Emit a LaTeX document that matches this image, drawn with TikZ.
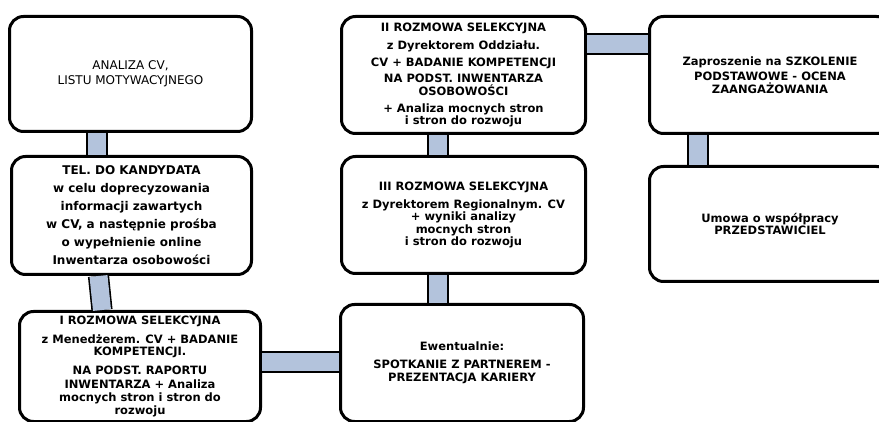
\documentclass[tikz,border=0pt]{standalone}
\usepackage{fontspec}
\setmainfont{DejaVu Sans}
\usetikzlibrary{calc}
\definecolor{barfill}{HTML}{B3C3DC}
\tikzset{
  stage/.style={draw=black, line width=3pt, fill=white, rounded corners=14pt,
    align=center, inner sep=2pt, font=\fontsize{11.5}{12.5}\selectfont\bfseries},
  bar/.style={draw=black, double=barfill, double distance=18pt, line width=1.6pt},
}
\begin{document}
\begin{tikzpicture}[x=1pt,y=-1pt]
\useasboundingbox (0,0) rectangle (879,422);

% left column
\node[stage, minimum width=242pt, minimum height=115pt, font=\fontsize{12}{15}\selectfont]
  (b1) at (130.5,74) {ANALIZA CV,\\LISTU MOTYWACYJNEGO};
\node[stage, minimum width=240pt, minimum height=118pt, font=\fontsize{12}{18}\selectfont\bfseries]
  (b2) at (131.5,215.5) {TEL. DO KANDYDATA\\w celu doprecyzowania\\informacji zawartych\\w CV, a następnie prośba\\o wypełnienie online\\Inwentarza osobowości};
\node[stage, minimum width=241pt, minimum height=110pt]
  (b3) at (140,366.5) {I ROZMOWA SELEKCYJNA\\[6.5pt]z Menedżerem. CV + BADANIE\\KOMPETENCJI.\\[6.5pt]NA PODST. RAPORTU\\[1.5pt]INWENTARZA + Analiza\\[0.5pt]mocnych stron i stron do\\[0.5pt]rozwoju};

% middle column
\node[stage, minimum width=244pt, minimum height=117pt]
  (b4) at (463.5,75) {II ROZMOWA SELEKCYJNA\\[5pt]z Dyrektorem Oddziału.\\[5pt]CV + BADANIE KOMPETENCJI\\[3.5pt]NA PODST. INWENTARZA\\OSOBOWOŚCI\\[4.5pt]+ Analiza mocnych stron\\i stron do rozwoju};
\node[stage, minimum width=244pt, minimum height=117pt]
  (b5) at (463.5,215) {III ROZMOWA SELEKCYJNA\\[5.5pt]z Dyrektorem Regionalnym. CV\\+ wyniki analizy\\mocnych stron\\i stron do rozwoju};
\node[stage, minimum width=243pt, minimum height=117pt]
  (b6) at (462,363) {Ewentualnie:\\[5.5pt]SPOTKANIE Z PARTNEREM -\\PREZENTACJA KARIERY};

% right column
\node[stage, minimum width=241pt, minimum height=117pt]
  (b7) at (770,75) {Zaproszenie na SZKOLENIE\\[2.5pt]PODSTAWOWE - OCENA\\ZAANGAŻOWANIA};
\node[stage, minimum width=241pt, minimum height=115pt]
  (b8) at (770,224) {Umowa o współpracy\\PRZEDSTAWICIEL};

% connecting bars
\draw[bar] ($(b1.south)+(-33.5,0)$) coordinate (c1) -- (c1 |- b2.north);
\draw[bar] ($(b2.south)+(-33,0)$) -- ($(b3.north)+(-38,0)$);
\draw[bar] (b3.east |- 0,362) -- (b6.west |- 0,362);
\draw[bar] ($(b6.north)+(-24,0)$) coordinate (c5) -- (c5 |- b5.south);
\draw[bar] ($(b5.north)+(-25.5,0)$) coordinate (c4) -- (c4 |- b4.south);
\draw[bar] (b4.east |- 0,44) -- (b7.west |- 0,44);
\draw[bar] ($(b7.south)+(-72,0)$) coordinate (c7) -- (c7 |- b8.north);
\end{tikzpicture}
\end{document}
